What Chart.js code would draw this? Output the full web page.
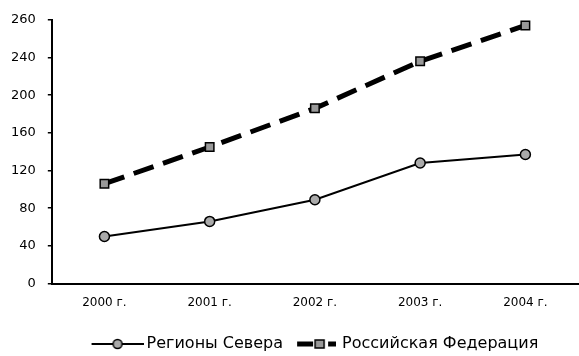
<!DOCTYPE html>
<html>
<head>
<meta charset="utf-8">
<script src="https://cdn.jsdelivr.net/npm/chart.js@4"></script>
<style>
  html, body { margin: 0; padding: 0; background: #fff; }
  #wrap { width: 579px; height: 356px; }
</style>
</head>
<body>
<div id="wrap"><canvas id="chart" width="579" height="356"></canvas></div>
<script>
const years = ["2000 г.", "2001 г.", "2002 г.", "2003 г.", "2004 г."];
const north = [50, 66, 89, 128, 137];
const russia = [106, 145, 186, 236, 274];
const yTickLabels = ["0", "40", "80", "120", "160", "200", "240", "260"];

const FONT = "'DejaVu Sans', sans-serif";
const BOX = 47; // legend box width

// legend icon: line with its marker, the visible part ends `right` px past the box
function makeIcon(w, right, draw) {
  const h = 14;
  const c = document.createElement("canvas");
  c.width = 2 * (BOX / 2 + right);
  c.height = h;
  const ctx = c.getContext("2d");
  ctx.translate(c.width - w, 0);
  draw(ctx, w, h);
  return c;
}

const northIcon = makeIcon(52, 5, (ctx, w, h) => {
  ctx.strokeStyle = "#000";
  ctx.lineWidth = 2;
  ctx.beginPath();
  ctx.moveTo(0, h / 2);
  ctx.lineTo(w, h / 2);
  ctx.stroke();
  ctx.beginPath();
  ctx.arc(w / 2, h / 2, 4.5, 0, Math.PI * 2);
  ctx.fillStyle = "#aaa";
  ctx.fill();
  ctx.lineWidth = 1.5;
  ctx.stroke();
});

const russiaIcon = makeIcon(39, 2, (ctx, w, h) => {
  ctx.fillStyle = "#000";
  ctx.fillRect(0, h / 2 - 2.5, 16, 5);
  ctx.fillRect(31, h / 2 - 2.5, 8, 5);
  ctx.fillStyle = "#999";
  ctx.strokeStyle = "#000";
  ctx.lineWidth = 1.5;
  ctx.fillRect(18, h / 2 - 4, 9, 8);
  ctx.strokeRect(18, h / 2 - 4, 9, 8);
});

const ctx = document.getElementById("chart");

new Chart(ctx, {
  type: "line",
  data: {
    labels: years,
    datasets: [
      {
        label: "Регионы Севера",
        data: north,
        borderColor: "#000",
        borderWidth: 2,
        pointStyle: "circle",
        pointRadius: 5,
        pointBackgroundColor: "#aaa",
        pointBorderColor: "#000",
        pointBorderWidth: 1.5,
        tension: 0,
      },
      {
        label: "Российская Федерация",
        data: russia,
        borderColor: "#000",
        borderWidth: 5,
        borderDash: [21, 10],
        pointStyle: "rect",
        pointRadius: 6,
        pointBackgroundColor: "#999",
        pointBorderColor: "#000",
        pointBorderWidth: 1.5,
        tension: 0,
      },
    ],
  },
  options: {
    responsive: false,
    animation: false,
    layout: {
      autoPadding: false,
      padding: { left: -1, right: 1, top: 19, bottom: 0 },
    },
    scales: {
      x: {
        offset: true,
        grid: {
          display: true,
          drawOnChartArea: false,
          drawTicks: true,
          tickLength: 12,
          tickColor: "rgba(0,0,0,0)",
        },
        border: { display: true, color: "#000", width: 2 },
        ticks: {
          color: "#000",
          padding: 0,
          font: { family: FONT, size: 12 },
        },
        // empty title keeps a gap above the legend
        title: {
          display: true,
          text: "",
          font: { size: 10 },
          padding: { top: 10, bottom: 0 },
        },
      },
      y: {
        min: 0,
        max: 280,
        grid: {
          drawOnChartArea: false,
          drawTicks: true,
          tickLength: 4,
          color: "#000",
          lineWidth: 1.5,
        },
        border: { display: true, color: "#000", width: 2 },
        ticks: {
          stepSize: 40,
          color: "#000",
          padding: 12,
          font: { family: FONT, size: 13 },
          callback: (value, index) => yTickLabels[index],
        },
      },
    },
    plugins: {
      legend: {
        position: "bottom",
        fullSize: false,
        maxHeight: 24,
        labels: {
          color: "#000",
          font: { family: FONT, size: 16 },
          usePointStyle: true,
          pointStyleWidth: BOX,
          padding: 4,
          generateLabels: (chart) =>
            chart.data.datasets.map((ds, i) => ({
              text: ds.label,
              datasetIndex: i,
              pointStyle: i === 0 ? northIcon : russiaIcon,
              fontColor: "#000",
              lineWidth: 0,
            })),
        },
      },
      tooltip: { enabled: false },
    },
  },
});
</script>
</body>
</html>
